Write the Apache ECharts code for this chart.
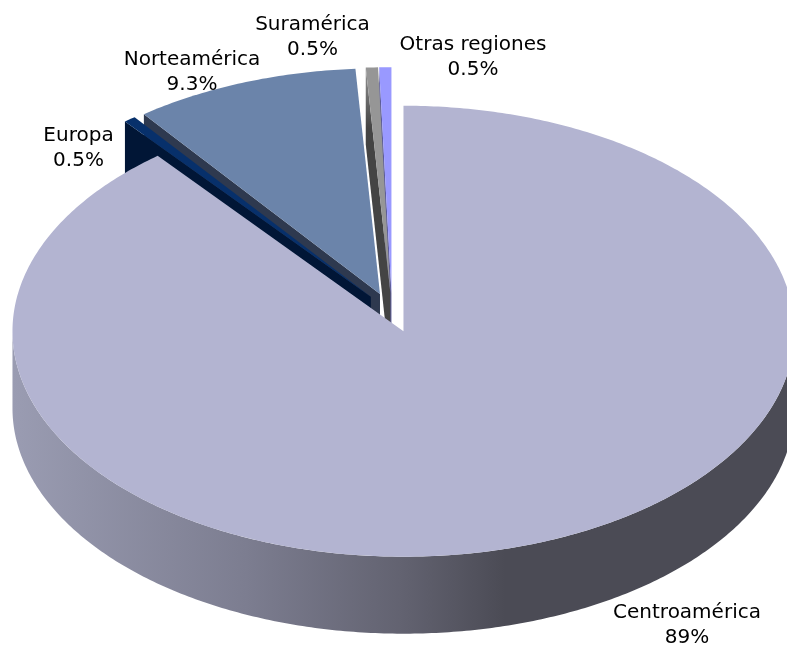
<!DOCTYPE html>
<html lang="es">

<head>
    <meta charset="UTF-8">
    <title>Regiones</title>
    <script type="text/javascript" src="https://cdn.jsdelivr.net/npm/echarts@6/dist/echarts.min.js"></script>
    <style>
        html, body {
            margin: 0;
            background-color: #fff;
            overflow: hidden;
        }
    </style>
</head>

<body>
    <div style="width: 787px; height: 646px" id="container"></div>
</body>
<script>
    // clockwise from 12 o'clock
    let categories = ['Centroamérica', 'Europa', 'Norteamérica', 'Suramérica', 'Otras regiones'];
    let shares = [89, 0.5, 9.3, 0.5, 0.5];
    let shareLabels = ['89%', '0.5%', '9.3%', '0.5%', '0.5%'];

    let topColors = ['#b3b4d1', '#07306b', '#6b84aa', '#969696', '#9999ff'];
    let wallColors = ['#4b4b55', '#011636', '#2e394f', '#444444', '#5c5c99'];
    let labelSpots = [[687, 625], [78.5, 148], [192, 72], [312.5, 37], [473, 57]];

    let cx = 392, cy = 312.5;     // pie centre before explosion
    let rx = 391, ry = 225.5;
    let depth = 77;
    let explode = 0.088;

    let total = shares.reduce((a, b) => a + b, 0);
    let startAngles = [];
    shares.reduce((acc, v, i) => {
        startAngles[i] = acc;
        return acc + v / total * Math.PI * 2;
    }, 0);

    // angle is clockwise from the top, on the squashed circle
    function onEllipse(ox, oy, a) {
        return [ox + Math.sin(a) * rx, oy - Math.cos(a) * ry];
    }

    function arcPoints(ox, oy, a0, a1) {
        let n = Math.max(2, Math.ceil(Math.abs(a1 - a0) * 90));
        let pts = [];
        for (let i = 0; i <= n; i++) {
            pts.push(onEllipse(ox, oy, a0 + (a1 - a0) * i / n));
        }
        return pts;
    }

    function renderSlice(params, api) {
        let i = api.value(0);
        let a0 = startAngles[i];
        let a1 = a0 + shares[i] / total * Math.PI * 2;
        let mid = (a0 + a1) / 2;
        let ox = cx + Math.sin(mid) * rx * explode;
        let oy = cy - Math.cos(mid) * ry * explode;
        let children = [];

        if (i === 0) {
            // outer rim, only the front half shows
            let front = arcPoints(ox, oy, Math.PI / 2, Math.PI * 1.5);
            let lower = front.map(p => [p[0], p[1] + depth]).reverse();
            children.push({
                type: 'polygon',
                shape: { points: front.concat(lower) },
                style: {
                    fill: {
                        type: 'linear', x: 0, y: 0, x2: 1, y2: 0,
                        colorStops: [
                            { offset: 0, color: '#9a9cb2' },
                            { offset: 0.3, color: '#7c7d90' },
                            { offset: 0.5, color: '#626270' },
                            { offset: 0.63, color: '#4b4b55' },
                            { offset: 1, color: '#4b4b55' }
                        ]
                    }
                }
            });
        } else {
            // cut face on the counter-clockwise side
            let p = onEllipse(ox, oy, a0);
            let wallFill = wallColors[i];
            if (i === 3) {
                // this one fades out towards the rim
                wallFill = {
                    type: 'linear', x: 0, y: 0, x2: 0, y2: 1,
                    colorStops: [
                        { offset: 0, color: '#949494' },
                        { offset: 0.2, color: wallColors[i] },
                        { offset: 1, color: wallColors[i] }
                    ]
                };
            }
            children.push({
                type: 'polygon',
                shape: { points: [[ox, oy], p, [p[0], p[1] + depth], [ox, oy + depth]] },
                style: { fill: wallFill }
            });
        }

        children.push({
            type: 'polygon',
            shape: { points: [[ox, oy]].concat(arcPoints(ox, oy, a0, a1)) },
            style: { fill: topColors[i] }
        });

        children.push({
            type: 'text',
            z2: 100,
            style: {
                x: labelSpots[i][0],
                y: labelSpots[i][1],
                text: categories[i] + '\n' + shareLabels[i],
                align: 'center',
                verticalAlign: 'middle',
                fontFamily: 'DejaVu Sans',
                fontSize: 20,
                lineHeight: 25,
                fill: '#000'
            }
        });

        return { type: 'group', children: children };
    }

    var dom = document.getElementById('container');
    var myChart = echarts.init(dom);

    // drawn back to front, so the big slice comes last
    let drawOrder = categories.map((c, i) => [i]).reverse();

    var option = {
        animation: false,
        backgroundColor: '#fff',
        series: [{
            type: 'custom',
            coordinateSystem: 'none',
            renderItem: renderSlice,
            data: drawOrder
        }]
    };
    myChart.setOption(option);
</script>

</html>
